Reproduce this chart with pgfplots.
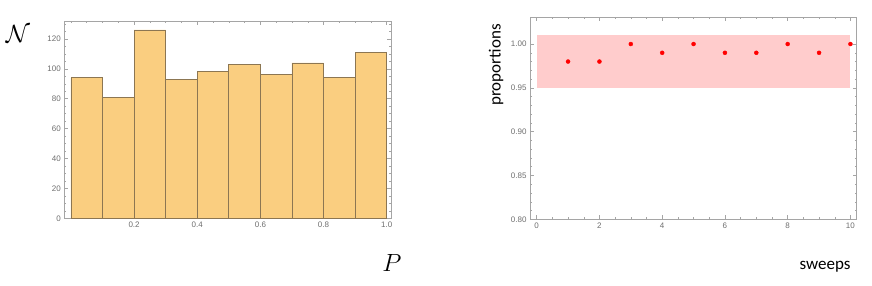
\documentclass[border=0pt]{standalone}
\usepackage{pgfplots}
\pgfplotsset{compat=1.18}
\usepackage{fontspec}
\setmainfont{Liberation Sans}
\newfontfamily\calibri{Carlito}
\definecolor{barfill}{RGB}{250,206,128}
\definecolor{baredge}{RGB}{140,118,82}
\definecolor{framegray}{RGB}{165,165,165}
\definecolor{labgray}{RGB}{110,110,110}
\pgfplotsset{
  mstyle/.style={
    scale only axis,
    anchor=south west,
    axis line style={draw=framegray, line width=0.6pt},
    tick style={draw=framegray, line width=0.5pt},
    major tick length=4pt,
    minor tick length=2pt,
    tick align=inside,
    ticklabel style={font=\fontsize{8}{9}\selectfont, text=labgray},
    /pgf/number format/assume math mode=true,
  }
}
\begin{document}
\begin{tikzpicture}[x=1pt,y=1pt]
\path[use as bounding box] (0,0) rectangle (872,285);
\begin{axis}[mstyle,
  at={(64.3pt,66.7pt)}, width=326.7pt, height=197.3pt,
  xmin=-0.021, xmax=1.0136, ymin=0, ymax=132,
  xtick={0.2,0.4,0.6,0.8,1.0},
  minor xtick={0,0.05,0.1,0.15,0.25,0.3,0.35,0.45,0.5,0.55,0.65,0.7,0.75,0.85,0.9,0.95},
  xticklabel style={/pgf/number format/.cd, fixed, fixed zerofill, precision=1},
  ytick={0,20,40,60,80,100,120},
  minor ytick={5,10,15,25,30,35,45,50,55,65,70,75,85,90,95,105,110,115,125,130},
]
\addplot[ybar interval, fill=barfill, draw=baredge, line width=0.7pt] coordinates {
(0.0,94) (0.1,81) (0.2,126) (0.3,93) (0.4,98) (0.5,103) (0.6,96) (0.7,104) (0.8,94) (0.9,111) (1.0,111)};
\end{axis}
\node at (18,251) {\fontsize{28}{30}\selectfont $\mathcal{N}$};
\node at (392,22) {\fontsize{25}{28}\selectfont $P$};
\begin{axis}[mstyle,
  at={(530pt,65.7pt)}, width=326.7pt, height=202pt,
  xmin=-0.213, xmax=10.2, ymin=0.8, ymax=1.0305,
  xtick={0,2,4,6,8,10},
  minor x tick num=3,
  ytick={0.8,0.85,0.9,0.95,1.0},
  minor y tick num=4,
  yticklabel style={/pgf/number format/.cd, fixed, fixed zerofill, precision=2},
]
\addplot[draw=none, fill=red!20] coordinates {(0,0.95) (10,0.95) (10,1.0102) (0,1.0102)} -- cycle;
\addplot[only marks, mark=*, mark size=2pt, color=red] coordinates {
(1,0.98) (2,0.98) (3,1.00) (4,0.99) (5,1.00) (6,0.99) (7,0.99) (8,1.00) (9,0.99) (10,1.00)};
\end{axis}
\node[rotate=90] at (496,220) {\calibri\fontsize{17}{19}\selectfont proportions};
\node at (825,18) {\calibri\fontsize{17}{19}\selectfont sweeps};
\end{tikzpicture}
\end{document}
